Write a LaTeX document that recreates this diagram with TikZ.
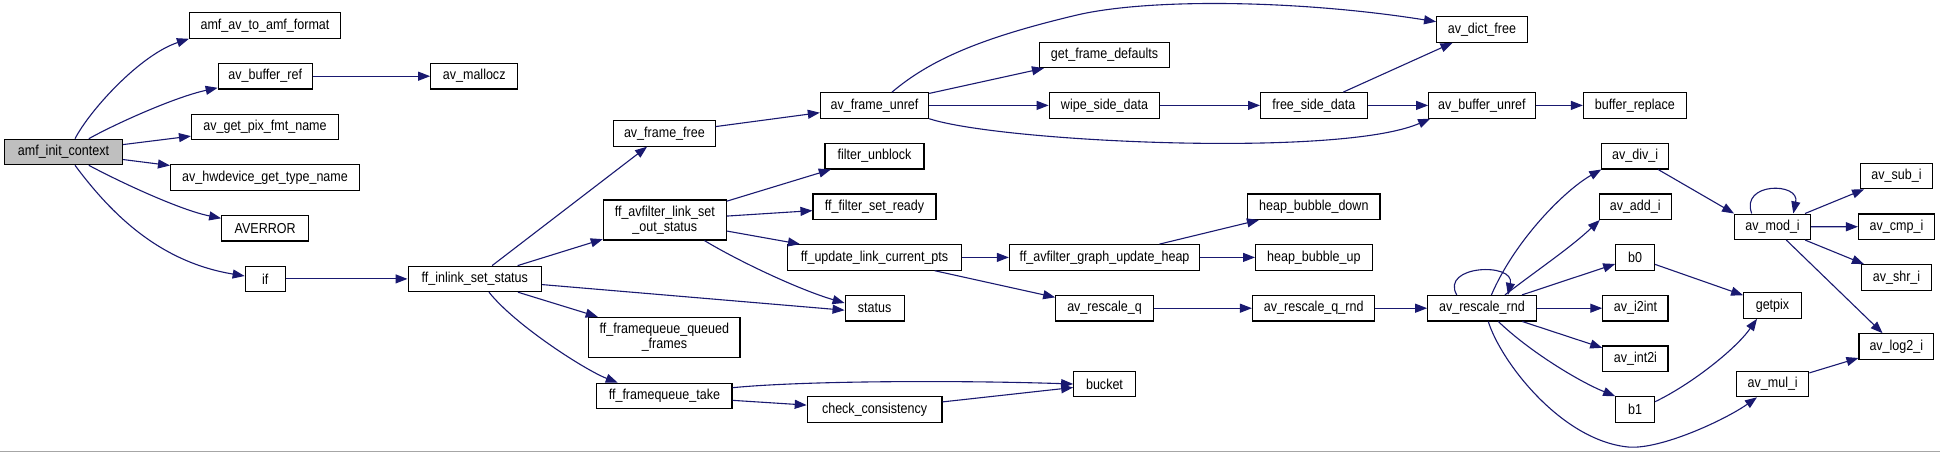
\documentclass[tikz,border=0pt]{standalone}
\usepackage{fontspec}
\setmainfont{Liberation Sans}[FakeStretch=0.87]
\usetikzlibrary{arrows.meta}
\definecolor{edgeblue}{RGB}{25,25,112}
\definecolor{rootgray}{RGB}{191,191,191}

\begin{document}
\begin{tikzpicture}[x=1pt, y=-1pt,
  fn/.style={draw=black, line width=1.1pt, fill=white, rectangle, inner sep=0pt,
    minimum height=25.5pt, font=\fontsize{14.4}{15}\selectfont, align=center},
  root/.style={fn, fill=rootgray},
  call/.style={draw=edgeblue, line width=1.1pt, -{Triangle[length=12pt,width=9pt]}}]
  \useasboundingbox[fill=white] (0,0) rectangle (1940,453);
  \draw[gray!70, line width=1.2pt] (0,451.5) -- (1940,451.5);

  \node[root, minimum width=118pt] (init) at (63.5,152) {amf\_init\_context};
  \node[fn, minimum width=151pt] (amffmt) at (265,25.5) {amf\_av\_to\_amf\_format};
  \node[fn, minimum width=94pt] (bufref) at (265.2,76.2) {av\_buffer\_ref};
  \node[fn, minimum width=87pt] (mallocz) at (474.2,76.2) {av\_mallocz};
  \node[fn, minimum width=147pt] (pixfmt) at (265,126.9) {av\_get\_pix\_fmt\_name};
  \node[fn, minimum width=189pt] (hwdev) at (265,177.5) {av\_hwdevice\_get\_type\_name};
  \node[fn, minimum width=87pt] (averror) at (265.2,228.2) {AVERROR};
  \node[fn, minimum width=40pt] (if) at (265.2,278.9) {if};
  \node[fn, minimum width=133.5pt] (inlink) at (474.8,278.9) {ff\_inlink\_set\_status};
  \node[fn, minimum width=101.4pt] (framefree) at (664.4,133.4) {av\_frame\_free};
  \node[fn, minimum width=123pt, minimum height=40pt] (outstatus) at (664.8,220) {ff\_avfilter\_link\_set\\\_out\_status};
  \node[fn, minimum width=151.2pt, minimum height=40pt] (queued) at (664.4,337.3) {ff\_framequeue\_queued\\\_frames};
  \node[fn, minimum width=135.2pt] (take) at (664.4,396) {ff\_framequeue\_take};
  \node[fn, minimum width=108.3pt] (unref) at (874.5,105.4) {av\_frame\_unref};
  \node[fn, minimum width=99pt] (unblock) at (874.5,156.2) {filter\_unblock};
  \node[fn, minimum width=123pt] (setready) at (874.5,206.7) {ff\_filter\_set\_ready};
  \node[fn, minimum width=173.4pt] (curpts) at (874.5,257.4) {ff\_update\_link\_current\_pts};
  \node[fn, minimum width=59pt] (status) at (874.6,308.2) {status};
  \node[fn, minimum width=134.7pt] (consist) at (874.6,409.4) {check\_consistency};
  \node[fn, minimum width=61.6pt] (bucket) at (1104.5,384) {bucket};
  \node[fn, minimum width=130.5pt] (defaults) at (1104.5,54.9) {get\_frame\_defaults};
  \node[fn, minimum width=110.6pt] (wipe) at (1104.5,105.4) {wipe\_side\_data};
  \node[fn, minimum width=190.4pt] (updheap) at (1104.6,257.4) {ff\_avfilter\_graph\_update\_heap};
  \node[fn, minimum width=97.6pt] (rescaleq) at (1104.5,308.2) {av\_rescale\_q};
  \node[fn, minimum width=106.5pt] (freeside) at (1313.8,105.4) {free\_side\_data};
  \node[fn, minimum width=132.3pt] (bubdown) at (1313.8,206.7) {heap\_bubble\_down};
  \node[fn, minimum width=116.5pt] (bubup) at (1313.8,257.4) {heap\_bubble\_up};
  \node[fn, minimum width=122.4pt] (qrnd) at (1313.7,308.2) {av\_rescale\_q\_rnd};
  \node[fn, minimum width=90.6pt] (dictfree) at (1481.9,29.5) {av\_dict\_free};
  \node[fn, minimum width=106.4pt] (bufunref) at (1481.9,105.4) {av\_buffer\_unref};
  \node[fn, minimum width=108.4pt] (rnd) at (1481.9,308.2) {av\_rescale\_rnd};
  \node[fn, minimum width=103pt] (replace) at (1634.9,105.4) {buffer\_replace};
  \node[fn, minimum width=66.7pt] (divi) at (1635.2,156.2) {av\_div\_i};
  \node[fn, minimum width=71.7pt] (addi) at (1635.2,206.7) {av\_add\_i};
  \node[fn, minimum width=38.8pt] (bzero) at (1635.1,257.4) {b0};
  \node[fn, minimum width=65.2pt] (itoint) at (1635.4,308.2) {av\_i2int};
  \node[fn, minimum width=65.2pt] (inttoi) at (1635.4,358.7) {av\_int2i};
  \node[fn, minimum width=38.8pt] (bone) at (1635.1,409.4) {b1};
  \node[fn, minimum width=76pt] (modi) at (1772.6,226.8) {av\_mod\_i};
  \node[fn, minimum width=57.7pt] (getpix) at (1772.5,305.5) {getpix};
  \node[fn, minimum width=72.2pt] (muli) at (1772.7,384) {av\_mul\_i};
  \node[fn, minimum width=72pt] (subi) at (1896.5,176) {av\_sub\_i};
  \node[fn, minimum width=76pt] (cmpi) at (1896.5,226.7) {av\_cmp\_i};
  \node[fn, minimum width=70pt] (shri) at (1896.5,277.4) {av\_shr\_i};
  \node[fn, minimum width=74.6pt] (logi) at (1896.3,346.5) {av\_log2\_i};

  % calls from amf_init_context
  \draw[call] ([xshift=11.5pt]init.north) .. controls (90,110) and (140,55) .. (amffmt.south west);
  \draw[call] ([xshift=25.3pt]init.north) .. controls (115,124) and (175,97) .. ([yshift=1.7pt]bufref.south west);
  \draw[call] (init) -- (pixfmt);
  \draw[call] (init) -- (hwdev);
  \draw[call] ([xshift=25.3pt]init.south) .. controls (120,182) and (180,210) .. ([yshift=9.9pt]averror.west);
  \draw[call] ([xshift=11.5pt]init.south) .. controls (112,215) and (160,262) .. ([yshift=2.9pt]if.west);
  \draw[call] (bufref) -- (mallocz);
  \draw[call] (if) -- (inlink);

  % ff_inlink_set_status
  \draw[call] (inlink) -- (framefree);
  \draw[call] (inlink) -- (outstatus);
  \draw[call] (inlink) -- ([yshift=-2pt]status.west);
  \draw[call] (inlink) -- (queued);
  \draw[call] ([xshift=14.2pt]inlink.south) .. controls (515,325) and (585,370) .. ([xshift=21.5pt]take.north west);

  % av_frame_free
  \draw[call] (framefree) -- (unref);
  \draw[call] ([xshift=17.5pt]unref.north) .. controls (930,60) and (980,38) .. (1077,15)
    .. controls (1150,-2) and (1300,0) .. ([yshift=7.8pt]dictfree.west);
  \draw[call] (unref) -- (defaults);
  \draw[call] (unref) -- (wipe);
  \draw[call] (unref.south east) .. controls (1000,142) and (1340,158) .. ([xshift=2pt]bufunref.south west);
  \draw[call] (wipe) -- (freeside);
  \draw[call] (freeside) -- (dictfree);
  \draw[call] (freeside) -- (bufunref);
  \draw[call] (bufunref) -- (replace);

  % ff_avfilter_link_set_out_status
  \draw[call] (outstatus) -- (unblock);
  \draw[call] (outstatus) -- (setready);
  \draw[call] (outstatus) -- (curpts);
  \draw[call] ([xshift=39.6pt]outstatus.south) .. controls (740,262) and (800,290) .. ([yshift=5.2pt]status.west);
  \draw[call] (curpts) -- (updheap);
  \draw[call] (curpts) -- (rescaleq);
  \draw[call] (updheap) -- (bubdown);
  \draw[call] (updheap) -- (bubup);
  \draw[call] (rescaleq) -- (qrnd);
  \draw[call] (qrnd) -- (rnd);

  % ff_framequeue_take
  \draw[call] ([yshift=8.3pt]take.east) .. controls (800,381) and (950,380) .. (bucket.west);
  \draw[call] (take) -- (consist);
  \draw[call] (consist) -- (bucket);

  % av_rescale_rnd
  \draw[call] ([xshift=-25.2pt]rnd.north) .. controls (1440,265) and (1515,262) .. ([xshift=26pt]rnd.north);
  \draw[call] ([xshift=9.5pt]rnd.north) .. controls (1515,240) and (1565,190) .. (divi.south west);
  \draw[call] ([xshift=23pt]rnd.north) .. controls (1540,268) and (1570,248) .. ([xshift=1pt]addi.south west);
  \draw[call] (rnd) -- (bzero);
  \draw[call] (rnd) -- (itoint);
  \draw[call] (rnd) -- (inttoi);
  \draw[call] ([xshift=16.4pt]rnd.south) .. controls (1530,352) and (1580,382) .. (bone.north west);
  \draw[call] ([xshift=6.4pt]rnd.south) .. controls (1500,360) and (1560,440) .. (1628,447)
    .. controls (1660,450) and (1725,420) .. ([xshift=-15.7pt]muli.south);

  % big integer helpers
  \draw[call] (divi) -- (modi.north west);
  \draw[call] (bzero) -- (getpix);
  \draw[call] ([yshift=7.7pt]bone.east) .. controls (1690,385) and (1735,350) .. ([xshift=-15.5pt]getpix.south);
  \draw[call] (muli) -- (logi);
  \draw[call] ([xshift=-20.9pt]modi.north) .. controls (1740,182) and (1800,182) .. ([xshift=20.7pt]modi.north);
  \draw[call] (modi) -- (subi);
  \draw[call] (modi) -- (cmpi);
  \draw[call] (modi) -- (shri);
  \draw[call] (modi) -- (logi);
\end{tikzpicture}
\end{document}
